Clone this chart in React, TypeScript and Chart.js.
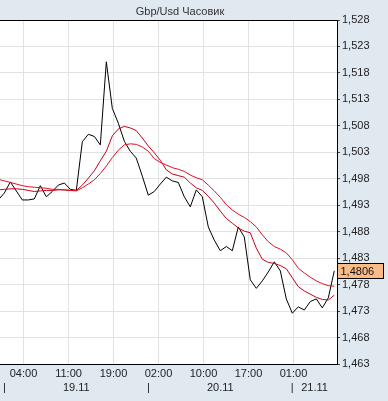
import React, { useEffect, useRef } from "react";
import { Chart, registerables } from "chart.js";

Chart.register(...registerables);

// hours since 00:00 19.11 (first point is 23:00 18.11)
const startHour = -1;

const closeValues = [
  1.4940, 1.4953, 1.4974, 1.4957, 1.4940, 1.4940, 1.4942, 1.4967, 1.4946, 1.4956,
  1.4968, 1.4972, 1.4960, 1.4958, 1.5050, 1.5064, 1.5060, 1.5044, 1.5201, 1.5113,
  1.5085, 1.5051, 1.5032, 1.5019, 1.4985, 1.4949, 1.4956, 1.4970, 1.4983, 1.4976,
  1.4973, 1.4946, 1.4927, 1.4959, 1.4946, 1.4889, 1.4864, 1.4844, 1.4852, 1.4844,
  1.4889, 1.4870, 1.4789, 1.4773, 1.4787, 1.4804, 1.4823, 1.4806, 1.4753, 1.4726,
  1.4738, 1.4732, 1.4748, 1.4753, 1.4736, 1.4755, 1.4806,
];

const fastAvg = [
  1.4959, 1.4960, 1.4961, 1.4961, 1.4960, 1.4958, 1.4956, 1.4957, 1.4958, 1.4958,
  1.4959, 1.4959, 1.4958, 1.4958, 1.4968, 1.4981, 1.4995, 1.5014, 1.5032, 1.5061,
  1.5074, 1.5079, 1.5076, 1.5071, 1.5057, 1.5042, 1.5029, 1.5015, 1.4997, 1.4989,
  1.4986, 1.4983, 1.4972, 1.4963, 1.4958, 1.4947, 1.4934, 1.4919, 1.4905, 1.4896,
  1.4887, 1.4881, 1.4878, 1.4849, 1.4828, 1.4822, 1.4820, 1.4816, 1.4810, 1.4793,
  1.4776, 1.4768, 1.4762, 1.4756, 1.4752, 1.4751, 1.4760,
];

const slowAvg = [
  1.4979, 1.4976, 1.4973, 1.4970, 1.4967, 1.4965, 1.4964, 1.4963, 1.4962, 1.4960,
  1.4960, 1.4959, 1.4958, 1.4957, 1.4963, 1.4970, 1.4978, 1.4990, 1.5004, 1.5020,
  1.5034, 1.5044, 1.5046, 1.5045, 1.5040, 1.5032, 1.5018, 1.5011, 1.5006, 1.5001,
  1.4998, 1.4994, 1.4987, 1.4982, 1.4978, 1.4968, 1.4957, 1.4945, 1.4931, 1.4921,
  1.4913, 1.4907, 1.4899, 1.4889, 1.4874, 1.4861, 1.4852, 1.4847, 1.4840, 1.4827,
  1.4811, 1.4802, 1.4794, 1.4787, 1.4782, 1.4778, 1.4777,
];

const yTicks = [1.463, 1.468, 1.473, 1.478, 1.483, 1.488, 1.493, 1.498, 1.503, 1.508, 1.513, 1.518, 1.523, 1.528];
const timeTickHours = [3.2, 10.7, 18.2, 25.7, 33.2, 40.7, 48.2];
const timeTickLabels = ["04:00", "11:00", "19:00", "02:00", "10:00", "17:00", "01:00"];
const dateTickHours = [0, 12, 24, 36, 48, 51.7];
const dateTickLabels = ["|", "19.11", "|", "20.11", "|", "21.11"];

const titleText = "Gbp/Usd Часовик";
const lastValueText = "1,4806";

const FONT = "'Liberation Sans', Arial, sans-serif";
const BG = "#e0e8f0";

const toPoints = (vals: number[]) => vals.map((v, i) => ({ x: startHour + i, y: v }));

export default function App() {
  const ref = useRef<HTMLCanvasElement | null>(null);

  useEffect(() => {
    if (!ref.current) return;

    const decorPlugin = {
      id: "decor",
      beforeDraw(chart: any) {
        const { ctx } = chart;
        ctx.save();
        ctx.fillStyle = BG;
        ctx.fillRect(0, 0, chart.width, chart.height);
        const a = chart.chartArea;
        ctx.fillStyle = "#ffffff";
        ctx.fillRect(a.left, a.top, a.right - a.left, a.bottom - a.top);
        ctx.restore();
      },
      afterDraw(chart: any) {
        const { ctx } = chart;
        const a = chart.chartArea;
        ctx.save();
        // top border
        ctx.strokeStyle = "#000";
        ctx.lineWidth = 1;
        ctx.beginPath();
        ctx.moveTo(a.left, a.top + 0.5);
        ctx.lineTo(a.right, a.top + 0.5);
        ctx.stroke();
        // title
        ctx.fillStyle = "#333";
        ctx.font = `11px ${FONT}`;
        ctx.textAlign = "center";
        ctx.textBaseline = "middle";
        ctx.fillText(titleText, 180, 12);
        // last value box
        const yPix = chart.scales.y.getPixelForValue(closeValues[closeValues.length - 1]);
        const bx = Math.round(a.right) + 0.5;
        const by = Math.round(yPix - 8) + 0.5;
        ctx.fillStyle = "#f9bb88";
        ctx.fillRect(bx, by, 46, 15);
        ctx.strokeStyle = "#000";
        ctx.strokeRect(bx, by, 46, 15);
        ctx.fillStyle = "#111";
        ctx.textAlign = "left";
        ctx.fillText(lastValueText, bx + 3, by + 8);
        ctx.restore();
      },
    };

    const chart = new Chart(ref.current, {
      type: "line",
      data: {
        datasets: [
          {
            data: toPoints(slowAvg),
            borderColor: "#e01020",
            borderWidth: 1,
            pointRadius: 0,
            tension: 0,
          },
          {
            data: toPoints(fastAvg),
            borderColor: "#cc0018",
            borderWidth: 1,
            pointRadius: 0,
            tension: 0,
          },
          {
            data: toPoints(closeValues),
            borderColor: "#000000",
            borderWidth: 1,
            pointRadius: 0,
            tension: 0,
          },
        ],
      },
      options: {
        animation: false,
        responsive: false,
        devicePixelRatio: 1,
        layout: { padding: { top: 20, left: 0, right: 0, bottom: 0 } },
        plugins: { legend: { display: false }, tooltip: { enabled: false }, title: { display: false } },
        scales: {
          x: {
            type: "linear",
            position: "bottom",
            min: -0.72,
            max: 55.45,
            afterBuildTicks: (s: any) => {
              s.ticks = timeTickHours.map((v) => ({ value: v }));
            },
            afterFit: (s: any) => {
              s.height = 15;
            },
            grid: { color: "#e2e2e2", drawTicks: false },
            border: { display: true, color: "#000" },
            ticks: {
              autoSkip: false,
              maxRotation: 0,
              padding: 3,
              color: "#222",
              font: { family: FONT, size: 11 },
              callback: (_v: any, i: number) => timeTickLabels[i],
            },
          },
          x2: {
            type: "linear",
            position: "bottom",
            min: -0.72,
            max: 55.45,
            afterBuildTicks: (s: any) => {
              s.ticks = dateTickHours.map((v) => ({ value: v }));
            },
            afterFit: (s: any) => {
              s.height = 22;
            },
            grid: { display: false, drawTicks: false },
            border: { display: false },
            ticks: {
              autoSkip: false,
              maxRotation: 0,
              padding: 2,
              color: "#222",
              font: { family: FONT, size: 11 },
              callback: (_v: any, i: number) => dateTickLabels[i],
            },
          },
          y: {
            type: "linear",
            position: "right",
            min: 1.463,
            max: 1.528,
            afterBuildTicks: (s: any) => {
              s.ticks = yTicks.map((v) => ({ value: v }));
            },
            afterFit: (s: any) => {
              s.width = 51;
            },
            grid: { color: "#e2e2e2", tickColor: "#444", tickLength: 3 },
            border: { display: true, color: "#000" },
            ticks: {
              padding: 2,
              color: "#222",
              font: { family: FONT, size: 11 },
              callback: (v: any) => Number(v).toFixed(3).replace(".", ","),
            },
          },
        },
      },
      plugins: [decorPlugin],
    } as any);

    return () => chart.destroy();
  }, []);

  return (
    <div style={{ position: "fixed", left: 0, top: 0, width: 388, height: 401, background: BG }}>
      <canvas ref={ref} width={388} height={401} style={{ display: "block", width: 388, height: 401 }} />
    </div>
  );
}
